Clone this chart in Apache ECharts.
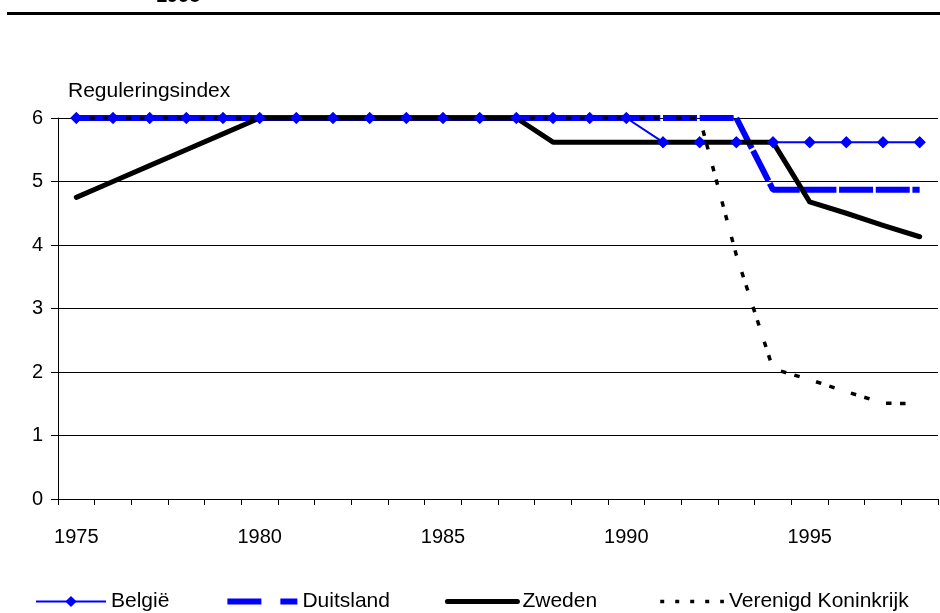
<!DOCTYPE html>
<html>
<head>
<meta charset="utf-8">
<script src="https://cdn.jsdelivr.net/npm/echarts@6/dist/echarts.min.js"></script>
<style>
  html, body { margin: 0; padding: 0; background: #fff; }
  #chart { width: 940px; height: 613px; }
</style>
</head>
<body>
<div id="chart"></div>
<script>
// Regulation index per country, 1975–1998
const years = ['1975','1976','1977','1978','1979','1980','1981','1982','1983','1984','1985','1986',
               '1987','1988','1989','1990','1991','1992','1993','1994','1995','1996','1997','1998'];
const belgie    = [6,6,6,6,6,6,6,6,6,6,6,6,6,6,6,6, 5.62,5.62,5.62,5.62,5.62,5.62,5.62,5.62];
const duitsland = [6,6,6,6,6,6,6,6,6,6,6,6,6,6,6,6,6,6,6, 4.87,4.87,4.87,4.87,4.87];
const zweden    = [4.75,5,5.25,5.5,5.75,6, 6,6,6,6,6,6,6, 5.62,5.62,5.62,5.62,5.62,5.62,5.62, 4.68,4.5,4.31,4.13];
const vk        = [6,6,6,6,6,6,6,6,6,6,6,6,6,6,6,6,6,6, 3.84,2.05,1.88,1.69,1.51,1.5];
const yTicks = [0, 1, 2, 3, 4, 5, 6];

const FONT = '"Liberation Sans", Arial, sans-serif';
const BLUE = '#0000ff';
const BLACK = '#000000';

// one category step in pixels (plot width / number of years)
const STEP = 880 / years.length;

const chart = echarts.init(document.getElementById('chart'), null, { renderer: 'canvas' });

// legend entries without a marker: hide the default legend symbol
const noMarker = { opacity: 0 };

chart.setOption({
  animation: false,
  backgroundColor: '#ffffff',
  textStyle: { fontFamily: FONT, color: BLACK },
  grid: { left: 58, right: 2, top: 118, bottom: 114, containLabel: false },
  graphic: [
    {
      type: 'line',
      shape: { x1: 7, y1: 13.5, x2: 940, y2: 13.5 },
      style: { stroke: BLACK, lineWidth: 3 }
    },
    {
      type: 'text',
      x: 156, y: -14,
      style: {
        text: '1998', font: 'bold 20px ' + FONT, fill: BLACK,
        verticalAlign: 'top', align: 'left'
      }
    },
    {
      type: 'text',
      x: 68, y: 91,
      style: {
        text: 'Reguleringsindex', font: '21px ' + FONT, fill: BLACK,
        verticalAlign: 'middle', align: 'left'
      }
    }
  ],
  legend: {
    left: 35,
    top: 591,
    padding: 0,
    itemWidth: 70,
    itemHeight: 14,
    itemGap: 55,
    textStyle: { fontSize: 21, fontFamily: FONT, color: BLACK },
    data: [
      { name: 'België', lineStyle: { width: 2 } },
      { name: 'Duitsland', lineStyle: { type: [34, 19], width: 6 }, itemStyle: noMarker },
      { name: 'Zweden', lineStyle: { width: 5, cap: 'round' }, itemStyle: noMarker },
      { name: 'Verenigd Koninkrijk', lineStyle: { type: [4, 11], width: 3.5 }, itemStyle: noMarker }
    ]
  },
  xAxis: {
    type: 'category',
    data: years,
    boundaryGap: true,
    axisLine: { lineStyle: { color: BLACK, width: 1 } },
    axisTick: { show: true, interval: 0, length: 6, lineStyle: { color: BLACK } },
    axisLabel: {
      interval: 4, margin: 28, fontSize: 20, fontFamily: FONT, color: BLACK
    },
    splitLine: { show: false }
  },
  yAxis: {
    type: 'value',
    min: yTicks[0],
    max: yTicks[yTicks.length - 1],
    interval: 1,
    axisLine: { show: true, lineStyle: { color: BLACK, width: 1 } },
    axisTick: { show: true, length: 7, lineStyle: { color: BLACK } },
    axisLabel: { margin: 15, fontSize: 20, fontFamily: FONT, color: BLACK },
    splitLine: { show: true, lineStyle: { color: BLACK, width: 1 } }
  },
  series: [
    {
      name: 'België',
      type: 'line',
      data: belgie,
      symbol: 'diamond',
      symbolSize: 12,
      showSymbol: true,
      lineStyle: { color: BLUE, width: 2 },
      itemStyle: { color: BLUE },
      z: 2
    },
    {
      name: 'Duitsland',
      type: 'line',
      data: duitsland,
      symbol: 'none',
      lineStyle: { color: BLUE, width: 6, type: [34, STEP - 34], cap: 'butt' },
      itemStyle: { color: BLUE },
      z: 2
    },
    {
      name: 'Zweden',
      type: 'line',
      data: zweden,
      symbol: 'none',
      lineStyle: { color: BLACK, width: 5, cap: 'round', join: 'round' },
      itemStyle: { color: BLACK },
      z: 2
    },
    {
      name: 'Verenigd Koninkrijk',
      type: 'line',
      data: vk,
      symbol: 'none',
      lineStyle: {
        color: BLACK, width: 3.5,
        type: [5.5, 8.5, 5.5, STEP - 19.5],
        dashOffset: STEP - 13
      },
      itemStyle: { color: BLACK },
      z: 2
    },
    {
      // België markers drawn above all lines
      name: 'België',
      type: 'scatter',
      data: belgie,
      symbol: 'diamond',
      symbolSize: 12,
      itemStyle: { color: BLUE },
      silent: true,
      z: 5
    }
  ]
});
</script>
</body>
</html>
